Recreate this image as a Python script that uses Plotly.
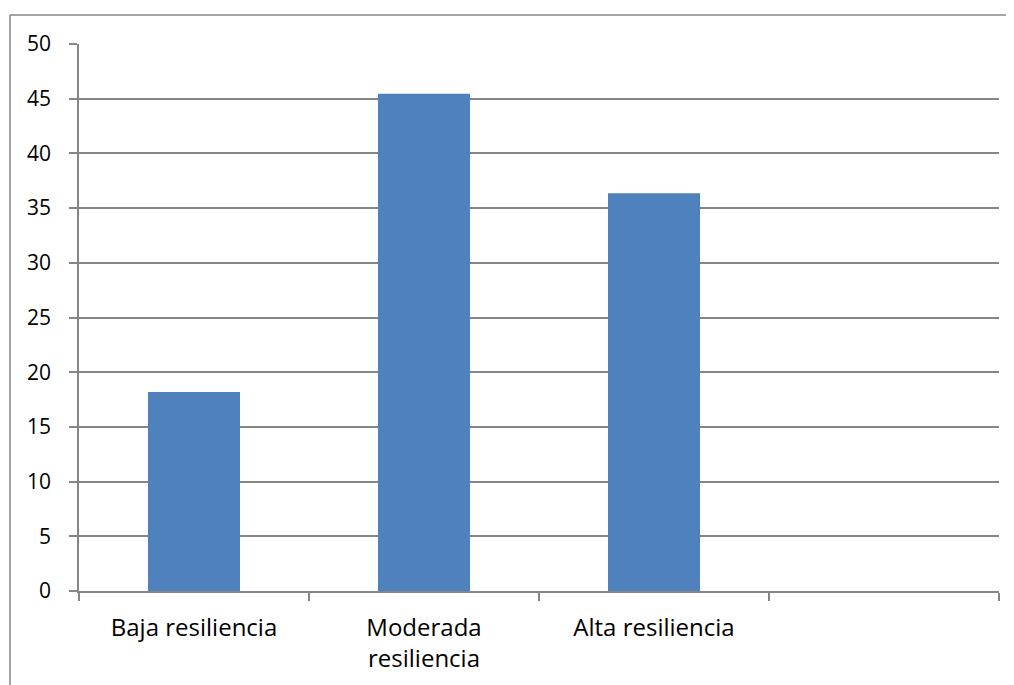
import plotly.graph_objects as go

categories = ["Baja resiliencia", "Moderada<br>resiliencia", "Alta resiliencia", " "]
values = [18.18, 45.45, 36.36, None]
y_ticks = [0, 5, 10, 15, 20, 25, 30, 35, 40, 45, 50]

# page has an 8px body offset; the figure runs past the window's right/bottom edge
W, H = 1014, 685
ml, mr, mt, mb = 71, 23, 36, 102
pw, ph = W - ml - mr, H - mt - mb

fig = go.Figure(go.Bar(x=categories, y=values, marker=dict(color="#4F81BD", line=dict(width=0)), width=0.4))

grid = "#868686"
xfont = dict(family="Open Sans", size=24, color="#000000")
yfont = dict(family="Open Sans", size=21, color="#000000")
fig.update_layout(
    width=W, height=H,
    margin=dict(l=ml, r=mr, t=mt, b=mb),
    paper_bgcolor="white", plot_bgcolor="white",
    showlegend=False,
    font=xfont,
    xaxis=dict(type="category", categoryorder="array", categoryarray=categories,
               range=[-0.5, 3.5], showline=True, linecolor=grid, linewidth=1.5,
               ticks="outside", tickson="boundaries", ticklen=8, tickcolor=grid, tickwidth=1.5,
               showgrid=False, tickfont=xfont, ticklabelstandoff=14),
    yaxis=dict(range=[0, 50], tickvals=y_ticks, showline=True, linecolor=grid, linewidth=1.5,
               ticks="outside", ticklen=8, tickcolor=grid, tickwidth=1.5,
               showgrid=True, gridcolor=grid, gridwidth=1.5, zeroline=False,
               tickfont=yfont, ticklabelstandoff=14),
)

# outer chart frame: only its top and left edges fall inside the picture
fx0 = (2 - ml) / pw
fy1 = (H - mb - 7) / ph
fig.add_shape(type="line", xref="paper", yref="paper", x0=fx0, x1=(W + 30 - ml) / pw, y0=fy1, y1=fy1,
              line=dict(color=grid, width=1.5))
fig.add_shape(type="line", xref="paper", yref="paper", x0=fx0, x1=fx0, y0=-(mb + 30) / ph, y1=fy1,
              line=dict(color=grid, width=1.5))

fig.write_html("out.html", config={"displayModeBar": False},
               post_script="document.body.style.overflow='hidden';")
